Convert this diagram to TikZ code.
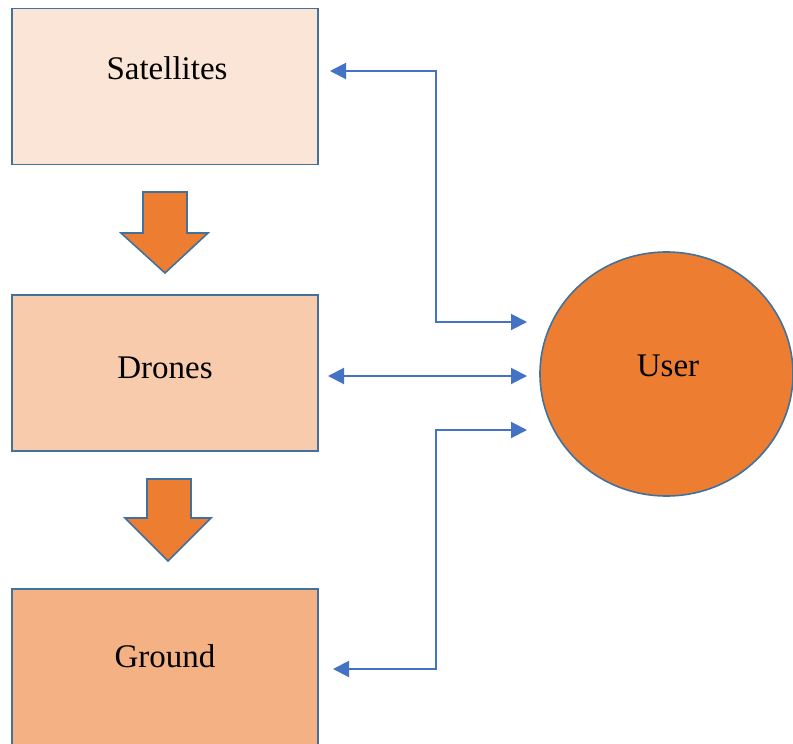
\documentclass[tikz,border=0pt]{standalone}
\usepackage{fontspec}
\setmainfont{Liberation Serif}
\usetikzlibrary{arrows.meta,shapes.geometric}
\definecolor{satfill}{HTML}{FBE5D6}
\definecolor{dronefill}{HTML}{F8CBAD}
\definecolor{groundfill}{HTML}{F4B183}
\definecolor{userfill}{HTML}{ED7D31}
\definecolor{edgeblue}{HTML}{41719C}
\definecolor{linkblue}{HTML}{4472C4}
\tikzset{
  layerbox/.style={draw=edgeblue, line width=0.9pt, rectangle, inner sep=0pt,
    minimum width=153pt, minimum height=78pt},
  lbl/.style={font=\fontsize{16.5pt}{19pt}\selectfont, inner sep=0pt, text=black},
  flowarrow/.style={draw=edgeblue, line width=0.8pt, fill=userfill, line join=miter},
  link/.style={draw=linkblue, line width=1pt,
    {Triangle[length=8pt,width=8pt]}-{Triangle[length=8pt,width=8pt]}},
}
\begin{document}
\begin{tikzpicture}[x=0.5pt, y=-0.5pt]
  \clip (0,0) rectangle (793,744);
  \useasboundingbox (0,0) rectangle (793,744);
  \fill[white] (0,0) rectangle (793,744);

  % three layers
  \node[layerbox, fill=satfill]    (sat)    at (165,86.5) {};
  \node[layerbox, fill=dronefill]  (drone)  at (165,373) {};
  \node[layerbox, fill=groundfill] (ground) at (165,667) {};
  \node[lbl] (satT)    at (167,68)  {Satellites};
  \node[lbl] (droneT)  at (165,368) {Drones};
  \node[lbl] (groundT) at (165,656) {Ground};

  % user
  \node[draw=edgeblue, line width=0.8pt, fill=userfill, ellipse, inner sep=0pt,
        minimum width=126.5pt, minimum height=122pt] (user) at (666.5,374) {};
  \node[lbl] (userT) at (668,366) {User};

  % downward block arrows
  \draw[flowarrow] (143,192) -- (187,192) -- (187,233) -- (208,233) -- (165,273)
    -- (121,233) -- (143,233) -- cycle;
  \draw[flowarrow] (147,479) -- (191,479) -- (191,518) -- (211,518) -- (168,561)
    -- (125,518) -- (147,518) -- cycle;

  % link end points
  \coordinate (satIn)    at (330,71);
  \coordinate (droneIn)  at (328,376);
  \coordinate (groundIn) at (333,669);
  \coordinate (userA)    at (527,322);
  \coordinate (userB)    at (527,376);
  \coordinate (userC)    at (527,430);

  % links between layers and user
  \draw[link] (satIn) -- (436,71) -- (436,322) -- (userA);
  \draw[link] (droneIn) -- (userB);
  \draw[link] (groundIn) -- (436,669) -- (436,430) -- (userC);
\end{tikzpicture}
\end{document}
